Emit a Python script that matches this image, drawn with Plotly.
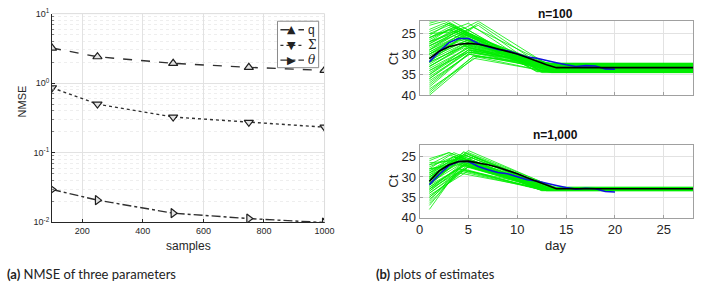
import plotly.graph_objects as go

# ---------------- data: left panel (NMSE) ----------------
samples = [100, 250, 500, 750, 1000]
nmse_q = [3.2, 2.4, 1.93, 1.69, 1.53]
nmse_sigma = [0.86, 0.50, 0.326, 0.273, 0.233]
nmse_theta = [0.0296, 0.0208, 0.0135, 0.0113, 0.0099]
legend_labels = ["q", "Σ", "<i>θ</i>"]

# ---------------- data: right panels (Ct vs day) ----------------
days_obs = list(range(1, 21))
ct_obs = [31.9, 29.4, 27.2, 26.2, 26.2, 27.4, 28.2, 28.9, 29.2, 29.9,
          30.7, 31.0, 31.6, 32.1, 32.6, 33.0, 32.8, 32.9, 33.6, 33.7]

days_true = list(range(1, 15)) + [28]
ct_true_100 = [31.1, 29.3, 28.2, 27.6, 27.4, 27.6, 28.1, 28.7, 29.3, 30.0,
               30.8, 31.7, 32.6, 33.3, 33.3]
ct_true_1000 = [31.1, 28.5, 27.0, 26.2, 26.1, 26.5, 27.0, 27.6, 28.4, 29.2,
                30.2, 31.1, 32.0, 32.9, 32.9]

# estimate curves (n=100): knots = start (day 1), peak, plateau start, plateau
top_start = [31.0, 29.0, 27.0, 33.0, 35.0, 38.0, 40.0, 26.0, 24.0, 22.5,
             30.0, 28.0, 32.0, 34.0, 36.0, 39.0, 25.0, 27.5, 29.5, 31.5,
             33.5, 37.0, 23.0, 26.5, 28.5, 30.5, 32.5, 34.5, 36.5, 38.5,
             27.0, 29.0, 31.0, 24.5, 26.0, 30.0, 33.0, 35.5, 28.0, 32.0,
             25.5, 29.0, 31.0, 34.0, 37.5, 27.0, 30.0, 33.0, 22.0, 26.0,
             28.0, 31.0, 35.0, 39.5, 29.5, 27.5, 32.0, 30.0, 25.0, 36.0]
top_peak_day = [4.0, 3.5, 3.0, 4.5, 5.0, 5.0, 5.5, 3.0, 2.5, 2.5,
                4.0, 3.5, 4.5, 5.0, 5.0, 5.5, 3.0, 3.5, 4.0, 4.5,
                5.0, 5.0, 2.5, 3.0, 3.5, 4.0, 4.5, 5.0, 5.5, 6.0,
                4.0, 4.5, 5.0, 3.0, 3.5, 4.0, 4.5, 5.0, 6.0, 5.5,
                3.0, 4.0, 5.0, 5.0, 5.5, 4.5, 4.0, 5.0, 3.0, 5.0,
                6.0, 4.5, 5.0, 5.5, 4.0, 3.5, 5.5, 6.0, 4.0, 5.0]
top_peak_ct = [27.5, 25.5, 24.0, 28.5, 29.0, 30.0, 31.0, 23.5, 22.5, 21.5,
               27.0, 25.0, 28.0, 29.5, 29.0, 30.5, 23.0, 24.5, 26.0, 27.5,
               28.5, 30.0, 22.0, 24.0, 25.5, 26.5, 27.5, 29.0, 29.5, 30.5,
               24.5, 25.0, 26.5, 22.5, 23.5, 26.0, 28.0, 29.5, 23.0, 27.0,
               22.5, 24.0, 25.0, 28.5, 29.0, 23.5, 26.5, 27.5, 21.5, 22.5,
               22.0, 26.0, 28.0, 30.5, 25.5, 24.0, 23.5, 22.5, 24.5, 29.5]
top_flat_day = [13.0, 12.5, 12.0, 13.5, 13.0, 14.0, 13.5, 12.0, 12.5, 12.0,
                13.0, 12.5, 13.5, 13.0, 14.0, 13.5, 12.5, 12.0, 13.0, 13.5,
                14.0, 13.0, 12.0, 12.5, 13.0, 13.5, 14.0, 13.0, 13.5, 14.0,
                12.5, 13.0, 13.5, 12.0, 12.5, 13.0, 14.0, 13.5, 12.5, 13.0,
                12.0, 12.5, 13.0, 13.5, 14.0, 12.5, 13.0, 13.5, 12.0, 12.5,
                13.0, 13.5, 14.0, 13.0, 12.5, 12.0, 13.5, 13.0, 12.5, 14.0]
top_flat_ct = [33.3, 32.6, 34.0, 33.0, 32.4, 33.8, 34.4, 32.8, 33.6, 34.2,
               33.1, 32.5, 33.9, 33.4, 32.9, 34.5, 32.3, 33.2, 33.7, 34.1,
               32.7, 33.5, 34.3, 32.4, 33.0, 33.8, 32.6, 34.0, 33.3, 32.9,
               33.6, 32.2, 34.4, 33.1, 32.8, 33.5, 34.2, 32.5, 33.9, 33.2,
               32.7, 34.1, 33.4, 32.3, 33.7, 34.5, 32.9, 33.0, 33.6, 34.3,
               32.4, 33.8, 33.1, 32.6, 34.0, 33.3, 32.8, 33.5, 34.2, 32.5]

# estimate curves (n=1,000)
bot_start = [31.0, 30.0, 32.0, 29.0, 33.0, 28.0, 34.0, 27.0, 35.0, 26.0,
             30.5, 31.5, 29.5, 32.5, 28.5, 33.5, 36.0, 37.0, 38.0, 25.5,
             30.0, 31.0, 32.0, 29.0, 33.0, 28.0, 34.5, 27.5, 35.5, 26.5,
             31.0, 30.0, 29.5, 32.5, 30.5, 28.5, 33.0, 31.5, 34.0, 36.5,
             30.0, 31.0, 32.0, 29.0, 27.0, 33.5, 30.5, 28.0, 31.5, 35.0]
bot_peak_day = [4.0, 4.5, 4.0, 3.5, 4.5, 3.5, 5.0, 3.0, 5.0, 3.0,
                4.0, 4.5, 4.0, 5.0, 3.5, 4.5, 4.0, 4.0, 4.0, 3.0,
                5.0, 4.5, 5.5, 4.0, 5.0, 4.0, 5.0, 3.5, 4.5, 3.5,
                4.5, 5.0, 4.0, 4.5, 5.5, 4.0, 5.0, 4.5, 5.0, 4.0,
                4.0, 5.0, 4.5, 3.5, 4.0, 5.0, 4.5, 4.0, 5.5, 4.5]
bot_peak_ct = [25.5, 24.5, 26.0, 25.0, 26.5, 24.0, 27.0, 24.5, 27.5, 24.0,
               25.0, 25.5, 24.5, 26.5, 25.0, 27.0, 28.0, 28.5, 28.0, 24.0,
               24.0, 25.5, 26.0, 25.0, 27.5, 26.5, 28.5, 25.0, 28.5, 26.0,
               23.8, 24.5, 26.0, 27.0, 25.0, 25.5, 26.0, 24.5, 27.5, 29.0,
               25.0, 23.5, 24.5, 26.5, 25.5, 26.5, 24.0, 27.0, 25.0, 28.0]
bot_flat_day = [13.0, 13.5, 12.5, 13.0, 14.0, 12.5, 13.5, 12.0, 13.0, 12.5,
                13.5, 14.0, 13.0, 12.5, 13.0, 13.5, 13.0, 12.5, 12.5, 12.0,
                14.0, 13.5, 13.0, 12.5, 13.0, 13.5, 12.5, 13.0, 12.5, 12.5,
                14.0, 14.0, 13.0, 12.5, 13.5, 13.0, 13.5, 14.0, 12.5, 12.5,
                13.5, 14.0, 13.5, 13.0, 12.5, 13.0, 14.0, 12.5, 13.5, 12.5]
bot_flat_ct = [32.9, 33.1, 32.7, 33.3, 32.6, 33.0, 33.2, 32.8, 33.4, 32.5,
               33.0, 32.8, 33.1, 32.7, 33.3, 32.9, 32.6, 33.2, 33.0, 32.8,
               32.7, 33.1, 32.9, 33.4, 32.6, 33.0, 33.2, 32.8, 33.1, 32.7,
               33.0, 32.9, 33.3, 32.6, 33.1, 32.8, 33.0, 33.2, 32.7, 32.9,
               33.1, 32.8, 33.0, 32.6, 33.3, 32.9, 33.1, 32.7, 33.0, 33.2]

last_day = 28

# ---------------- figure ----------------
W, H = 709, 290
fig = go.Figure()

def px_x(p):
    return p / W

def px_y(p):
    return 1 - p / H

GREY = "#262626"
GRID = "#e2e2e2"
SANS = "Liberation Sans, Arial"

# minor (log) tick positions: 2..9 within each decade
minor_vals = [m * 10.0 ** e for e in (-2, -1, 0) for m in range(2, 10)]

# left panel
line_col = "#303030"
styles = [("dash", "triangle-up", "▲"), ("dot", "triangle-down", "▼"),
          ("dashdot", "triangle-right", "▶")]
for vals, (dash, sym, _) in zip([nmse_q, nmse_sigma, nmse_theta], styles):
    fig.add_trace(go.Scatter(
        x=samples, y=vals, mode="lines+markers",
        line=dict(color=line_col, width=1.4, dash=dash),
        marker=dict(symbol=sym, size=8, color="#e4e4e4",
                    line=dict(color="#202020", width=1.2)),
        xaxis="x", yaxis="y", showlegend=False))

# right panels
def add_estimates(start, pday, pct, fday, fct, xa, ya):
    for s, pd_, pc, fd, fc in zip(start, pday, pct, fday, fct):
        fig.add_trace(go.Scatter(
            x=[1, pd_, fd, last_day], y=[s, pc, fc, fc], mode="lines",
            line=dict(color="#00ee00", width=0.8), showlegend=False,
            hoverinfo="skip", xaxis=xa, yaxis=ya))

add_estimates(top_start, top_peak_day, top_peak_ct, top_flat_day, top_flat_ct, "x2", "y2")
add_estimates(bot_start, bot_peak_day, bot_peak_ct, bot_flat_day, bot_flat_ct, "x3", "y3")

for xa, ya, truth in [("x2", "y2", ct_true_100), ("x3", "y3", ct_true_1000)]:
    fig.add_trace(go.Scatter(x=days_obs, y=ct_obs, mode="lines",
                             line=dict(color="#1010e0", width=1.6),
                             showlegend=False, xaxis=xa, yaxis=ya))
    fig.add_trace(go.Scatter(x=days_true, y=truth, mode="lines",
                             line=dict(color="black", width=1.6),
                             showlegend=False, xaxis=xa, yaxis=ya))

left_common = dict(showline=True, linecolor=GREY, linewidth=1, mirror=False,
                   showgrid=True, gridcolor=GRID, gridwidth=1, zeroline=False,
                   ticks="inside", ticklen=3, tickcolor=GREY,
                   tickfont=dict(family=SANS, size=9, color=GREY))
right_common = dict(showline=True, linecolor="#a0a0a0", linewidth=1, mirror=True,
                    showgrid=True, gridcolor=GRID, gridwidth=1, zeroline=False,
                    ticks="inside", ticklen=3, tickcolor="#a0a0a0",
                    tickfont=dict(family=SANS, size=13, color=GREY))

fig.update_layout(
    width=W, height=H, margin=dict(l=0, r=0, t=0, b=0),
    paper_bgcolor="white", plot_bgcolor="white",
    font=dict(family=SANS, color=GREY),
    showlegend=False,
    xaxis=dict(domain=[px_x(49), px_x(327)], range=[100, 1000],
               tickvals=[200, 400, 600, 800, 1000], anchor="y", **left_common),
    yaxis=dict(domain=[px_y(227), px_y(7)], type="log", range=[-2, 1],
               tickvals=[0.01, 0.1, 1, 10],
               ticktext=["10<sup>-2</sup>", "10<sup>-1</sup>", "10<sup>0</sup>", "10<sup>1</sup>"],
               minor=dict(tickmode="array", tickvals=minor_vals,
                          showgrid=True, gridcolor="#eeeeee", gridwidth=1,
                          griddash="dot",
                          ticks="inside", ticklen=2, tickcolor="#808080"),
               anchor="x", **left_common),
    xaxis2=dict(domain=[px_x(424), px_x(703)], range=[0, 28],
                tickvals=[0, 5, 10, 15, 20, 25], showticklabels=False,
                anchor="y2", **right_common),
    yaxis2=dict(domain=[px_y(93), px_y(15)], range=[40, 22],
                tickvals=[25, 30, 35, 40], anchor="x2", **right_common),
    xaxis3=dict(domain=[px_x(424), px_x(703)], range=[0, 28],
                tickvals=[0, 5, 10, 15, 20, 25], anchor="y3", **right_common),
    yaxis3=dict(domain=[px_y(222), px_y(145)], range=[40, 22],
                tickvals=[25, 30, 35, 40], anchor="x3", **right_common),
)

# top/right edges of the left panel (MATLAB light box)
fig.add_shape(type="line", xref="paper", yref="paper",
              x0=px_x(49), x1=px_x(327), y0=px_y(7), y1=px_y(7),
              line=dict(color="#dcdcdc", width=1))
fig.add_shape(type="line", xref="paper", yref="paper",
              x0=px_x(327), x1=px_x(327), y0=px_y(227), y1=px_y(7),
              line=dict(color="#dcdcdc", width=1))

# compact legend box (MATLAB style)
lx0, lx1, ly0, ly1 = 279, 321, 15, 64
fig.add_shape(type="rect", xref="paper", yref="paper",
              x0=px_x(lx0), x1=px_x(lx1), y0=px_y(ly1), y1=px_y(ly0),
              fillcolor="white", line=dict(color="#8a8a8a", width=1), layer="above")
row_y = [24, 40.5, 56]
for ry, lab, (dash, _, glyph) in zip(row_y, legend_labels, styles):
    fig.add_shape(type="line", xref="paper", yref="paper",
                  x0=px_x(282), x1=px_x(306), y0=px_y(ry), y1=px_y(ry),
                  line=dict(color=line_col, width=1.4, dash=dash), layer="above")
    fig.add_annotation(text=glyph, x=px_x(293.5), y=px_y(ry), xref="paper", yref="paper",
                       showarrow=False, xanchor="center", yanchor="middle",
                       font=dict(family="DejaVu Sans", size=11, color="#222"),
                       bgcolor="rgba(0,0,0,0)")
    fig.add_annotation(text=lab, x=px_x(308), y=px_y(ry), xref="paper", yref="paper",
                       showarrow=False, xanchor="left", yanchor="middle",
                       font=dict(family="DejaVu Serif" if lab != "q" else SANS,
                                 size=12, color="#222"))

ann = [
    dict(text="NMSE", x=px_x(18), y=px_y(100), textangle=-90, font=dict(size=11)),
    dict(text="samples", x=px_x(188), y=px_y(252), font=dict(size=12)),
    dict(text="day", x=px_x(563), y=px_y(251), font=dict(size=13)),
    dict(text="Ct", x=px_x(397), y=px_y(55), textangle=-90, font=dict(size=13)),
    dict(text="Ct", x=px_x(397), y=px_y(184), textangle=-90, font=dict(size=13)),
    dict(text="<b>n=100</b>", x=px_x(563), y=px_y(7), font=dict(size=12, color="#111")),
    dict(text="<b>n=1,000</b>", x=px_x(563), y=px_y(135), font=dict(size=12, color="#111")),
]
for a in ann:
    a.update(xref="paper", yref="paper", showarrow=False, xanchor="center", yanchor="middle")
    fig.add_annotation(**a)

for txt, xpos in [("<b>(a)</b> NMSE of three parameters", 1), ("<b>(b)</b> plots of estimates", 377)]:
    fig.add_annotation(text=txt, x=px_x(xpos), y=px_y(282), xref="paper", yref="paper",
                       showarrow=False, xanchor="left", yanchor="middle",
                       font=dict(family="Lato", size=13, color="#222"))

fig.write_html("out.html")
